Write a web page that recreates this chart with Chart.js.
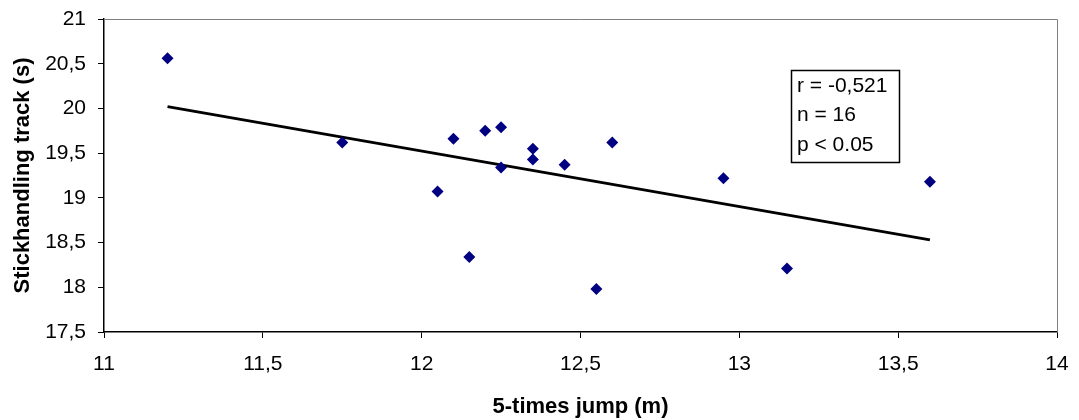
<!DOCTYPE html>
<html>
<head>
<meta charset="utf-8">
<script src="https://cdn.jsdelivr.net/npm/chart.js@4"></script>
<style>
  html, body { margin: 0; padding: 0; background: #fff; }
  #wrap { width: 1079px; height: 420px; }
</style>
</head>
<body>
<div id="wrap"><canvas id="jumpChart"></canvas></div>
<script>
    // data
    const jumpX = [11.2, 11.75, 12.05, 12.1, 12.15, 12.2, 12.25, 12.25, 12.35, 12.35, 12.45, 12.55, 12.6, 12.95, 13.15, 13.6];
    const trackY = [20.56, 19.62, 19.07, 19.66, 18.34, 19.75, 19.79, 19.34, 19.55, 19.43, 19.37, 17.98, 19.62, 19.22, 18.21, 19.18];
    const trendX = [11.2, 13.6];
    const trendY = [20.02, 18.53];
    const statLines = ['r = -0,521', 'n = 16', 'p < 0.05'];

    const FONT = "'Liberation Sans', Arial, sans-serif";
    const commaFmt = v => String(v).replace('.', ',');

    // gray frame on top/right + stats box
    const framePlugin = {
        id: 'frame',
        beforeDatasetsDraw(chart) {
            const { ctx, chartArea: a } = chart;
            ctx.save();
            ctx.strokeStyle = '#808080';
            ctx.lineWidth = 1;
            ctx.beginPath();
            ctx.moveTo(a.left, a.top + 0.5);
            ctx.lineTo(a.right + 0.5, a.top + 0.5);
            ctx.lineTo(a.right + 0.5, a.bottom);
            ctx.stroke();
            ctx.restore();
        },
        afterDatasetsDraw(chart) {
            const { ctx } = chart;
            ctx.save();
            ctx.strokeStyle = '#000';
            ctx.lineWidth = 1.5;
            ctx.strokeRect(791.5, 70.5, 108, 92);
            ctx.fillStyle = '#000';
            ctx.font = '21px ' + FONT;
            ctx.textBaseline = 'middle';
            statLines.forEach((t, i) => ctx.fillText(t, 797, 86 + i * 29.5));
            ctx.restore();
        }
    };

    const scatterPts = jumpX.map((x, i) => ({ x: x, y: trackY[i] }));
    const trendPts = trendX.map((x, i) => ({ x: x, y: trendY[i] }));

    new Chart(document.getElementById('jumpChart').getContext('2d'), {
        type: 'scatter',
        data: {
            datasets: [{
                data: scatterPts,
                pointStyle: 'rectRot',
                pointRadius: 6,
                backgroundColor: '#000080',
                borderColor: '#000080',
                borderWidth: 0
            }, {
                type: 'line',
                data: trendPts,
                borderColor: '#000',
                borderWidth: 3,
                pointRadius: 0,
                fill: false
            }]
        },
        options: {
            responsive: true,
            maintainAspectRatio: false,
            animation: false,
            devicePixelRatio: 1,
            layout: { padding: { top: 19, right: 22, left: 0, bottom: 0 } },
            plugins: { legend: { display: false }, tooltip: { enabled: false } },
            scales: {
                x: {
                    type: 'linear',
                    min: 11, max: 14,
                    afterFit: s => { s.height = 88; s.paddingLeft = 0; s.paddingRight = 0; },
                    border: { color: '#000', width: 1.5 },
                    grid: { drawOnChartArea: false, drawTicks: true, tickLength: 6, color: '#000' },
                    ticks: {
                        stepSize: 0.5, padding: 14, color: '#000',
                        font: { family: FONT, size: 21 },
                        callback: commaFmt
                    },
                    title: {
                        display: true, text: '5-times jump (m)', color: '#000',
                        font: { family: FONT, size: 22, weight: 'bold' },
                        padding: { top: 8, bottom: 0 }
                    }
                },
                y: {
                    min: 17.5, max: 21,
                    afterFit: s => { s.width = 104; s.paddingTop = 0; s.paddingBottom = 0; },
                    border: { color: '#000', width: 1.5 },
                    grid: { drawOnChartArea: false, drawTicks: true, tickLength: 6, color: '#000' },
                    ticks: {
                        stepSize: 0.5, padding: 12, color: '#000',
                        font: { family: FONT, size: 21 },
                        callback: commaFmt
                    },
                    title: {
                        display: true, text: 'Stickhandling track (s)', color: '#000',
                        font: { family: FONT, size: 22, weight: 'bold' },
                        padding: { top: 10, bottom: 0 }
                    }
                }
            }
        },
        plugins: [framePlugin]
    });
</script>
</body>
</html>
